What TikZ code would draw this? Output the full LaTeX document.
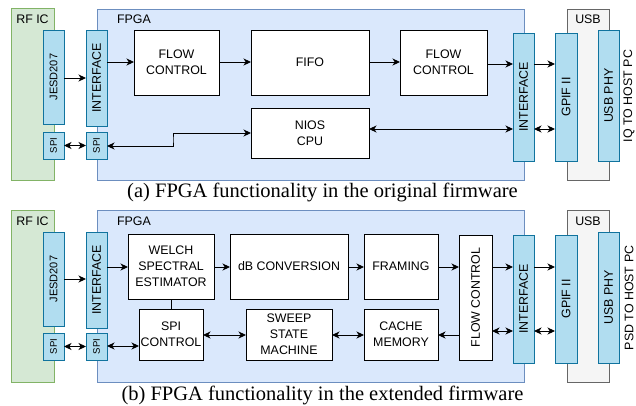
\documentclass[tikz,border=0pt]{standalone}
\usepackage{fontspec}
\setmainfont{Liberation Serif}
\newfontfamily\lblfont{Liberation Sans}
\usepackage{graphicx}
\usetikzlibrary{arrows.meta}

\definecolor{grnfill}{HTML}{D5E8D4}
\definecolor{grnline}{HTML}{82B366}
\definecolor{bluefill}{HTML}{DAE8FC}
\definecolor{blueline}{HTML}{6C8EBF}
\definecolor{greyfill}{HTML}{F5F5F5}
\definecolor{greyline}{HTML}{666666}
\definecolor{ifcfill}{HTML}{B1DDF0}
\definecolor{ifcline}{HTML}{10739E}

% place a rectangular node from its corner coordinates (x1,y1)-(x2,y2)
\newcommand\mkbox[7]{%
  \node[#2, minimum width={(#5-#3)*1pt}, minimum height={(#6-#4)*1pt}]
    (#1) at ({(#3+#5)/2},{(#4+#6)/2}) {#7};}

\tikzset{
  boxbase/.style={rectangle, inner sep=0pt, outer sep=0pt, line width=0.9pt,
    font=\lblfont\fontsize{12.4}{16}\selectfont, align=center},
  grpgreen/.style={boxbase, fill=grnfill, draw=grnline},
  grpblue/.style={boxbase, fill=bluefill, draw=blueline},
  grpgrey/.style={boxbase, fill=greyfill, draw=greyline},
  ifc/.style={boxbase, fill=ifcfill, draw=ifcline},
  blk/.style={boxbase, fill=white, draw=black},
  grplbl/.style={inner sep=0pt, font=\lblfont\fontsize{12.4}{15}\selectfont},
  smalltxt/.style={font=\lblfont\fontsize{11}{13}\selectfont},
  tinytxt/.style={font=\lblfont\fontsize{9.6}{12}\selectfont},
  captxt/.style={inner sep=0pt, font=\fontsize{20.5}{24}\selectfont},
  mytip/.tip={Stealth[length=7.5pt,width=7pt,inset=2.2pt]},
  arr/.style={line width=0.9pt, -mytip},
  darr/.style={line width=0.9pt, mytip-mytip},
  ln/.style={line width=0.9pt},
}

\begin{document}
\begin{tikzpicture}[x=1pt,y=-1pt]
\useasboundingbox (0,0) rectangle (636,405);

% ---------------- original firmware ----------------
\mkbox{rfA}{grpgreen}{11}{8.5}{54}{180}{}
\mkbox{fpgaA}{grpblue}{97}{9}{524}{180}{}
\mkbox{usbA}{grpgrey}{567}{9}{609}{180}{}
\node[grplbl] (rflblA) at (32.5,19) {RF IC};
\node[grplbl] (fpgalblA) at (134,19) {FPGA};
\node[grplbl] (usblblA) at (588,19) {USB};

\mkbox{jesdA}{ifc,smalltxt}{43}{30}{64}{124}{\rotatebox{90}{JESD207}}
\mkbox{intfLA}{ifc}{86}{30}{107}{126}{\rotatebox{90}{INTERFACE}}
\mkbox{spiLA}{ifc,tinytxt}{43}{132}{64}{159}{\rotatebox{90}{SPI}}
\mkbox{spiRA}{ifc,tinytxt}{86}{132}{107}{159}{\rotatebox{90}{SPI}}
\mkbox{fc1A}{blk}{134}{30}{219}{95}{FLOW\\CONTROL}
\mkbox{fifoA}{blk}{251}{30}{369}{95}{FIFO}
\mkbox{niosA}{blk}{251}{108}{369}{158}{NIOS\\CPU}
\mkbox{fc2A}{blk}{400}{30}{487}{95}{FLOW\\CONTROL}
\mkbox{intfRA}{ifc}{513}{33}{534}{161}{\rotatebox{90}{INTERFACE}}
\mkbox{gpifA}{ifc}{555}{33}{577}{161}{\rotatebox{90}{GPIF II}}
\mkbox{phyA}{ifc}{598}{30.5}{619}{161}{\rotatebox{90}{USB PHY}}
\node[grplbl, rotate=90] (hostA) at (629,96) {IQ TO HOST PC};

\draw[arr] (jesdA.east |- 0,78) -- (intfLA.west |- 0,78);
\draw[arr] (intfLA.east |- 0,62) -- (fc1A.west |- 0,62);
\draw[arr] (fc1A.east |- 0,62) -- (fifoA.west |- 0,62);
\draw[arr] (fifoA.east |- 0,62) -- (fc2A.west |- 0,62);
\draw[arr] (fc2A.east |- 0,64) -- (intfRA.west |- 0,64);
\draw[arr] (intfRA.east |- 0,64) -- (gpifA.west |- 0,64);
\draw[darr] (spiLA.east |- 0,145.5) -- (spiRA.west |- 0,145.5);
\coordinate (bendA) at (173,139.5);
\draw[darr] (spiRA.east |- 0,146) -| (bendA) |- (niosA.west |- 0,133);
\draw[darr] (niosA.east |- 0,129) -- (intfRA.west |- 0,129);
\draw[darr] (intfRA.east |- 0,129) -- (gpifA.west |- 0,129);

\node[captxt, anchor=base] (capA) at (322.5,197)
  {(a) FPGA functionality in the original firmware};

% ---------------- extended firmware ----------------
\mkbox{rfB}{grpgreen}{11}{210}{54}{382}{}
\mkbox{fpgaB}{grpblue}{97}{210}{524}{382}{}
\mkbox{usbB}{grpgrey}{567}{210}{609}{382}{}
\node[grplbl] (rflblB) at (32.5,221) {RF IC};
\node[grplbl] (fpgalblB) at (134,221) {FPGA};
\node[grplbl] (usblblB) at (588,221) {USB};

\mkbox{jesdB}{ifc,smalltxt}{43}{232}{64}{326}{\rotatebox{90}{JESD207}}
\mkbox{intfLB}{ifc}{86}{232}{107}{328}{\rotatebox{90}{INTERFACE}}
\mkbox{spiLB}{ifc,tinytxt}{43}{333}{64}{360}{\rotatebox{90}{SPI}}
\mkbox{spiRB}{ifc,tinytxt}{86}{333}{107}{360}{\rotatebox{90}{SPI}}
\mkbox{welch}{blk}{128}{234}{214}{299}{WELCH\\SPECTRAL\\ESTIMATOR}
\mkbox{dbconv}{blk}{230}{234}{348}{299}{dB CONVERSION}
\mkbox{framing}{blk}{364}{234}{438}{299}{FRAMING}
\mkbox{fcB}{blk}{459}{235}{492}{360}{\rotatebox{90}{FLOW CONTROL}}
\mkbox{spictl}{blk}{139}{309}{203}{360}{SPI\\CONTROL}
\mkbox{sweep}{blk}{246}{309}{332}{360}{SWEEP\\STATE\\MACHINE}
\mkbox{cache}{blk}{364}{309}{438}{360}{CACHE\\MEMORY}
\mkbox{intfRB}{ifc}{513}{235}{534}{363}{\rotatebox{90}{INTERFACE}}
\mkbox{gpifB}{ifc}{555}{235}{577}{363}{\rotatebox{90}{GPIF II}}
\mkbox{phyB}{ifc}{598}{232}{619}{363}{\rotatebox{90}{USB PHY}}
\node[grplbl, rotate=90] (hostB) at (629,298) {PSD TO HOST PC};

\draw[arr] (jesdB.east |- 0,279) -- (intfLB.west |- 0,279);
\draw[arr] (intfLB.east |- 0,267) -- (welch.west |- 0,267);
\draw[arr] (welch.east |- 0,267) -- (dbconv.west |- 0,267);
\draw[arr] (dbconv.east |- 0,267) -- (framing.west |- 0,267);
\draw[arr] (framing.east |- 0,267) -- (fcB.west |- 0,267);
\draw[arr] (fcB.east |- 0,267) -- (intfRB.west |- 0,267);
\draw[arr] (intfRB.east |- 0,267) -- (gpifB.west |- 0,267);
\draw[ln] (welch.south) -- (spictl.north);
\draw[darr] (spiLB.east |- 0,346.5) -- (spiRB.west |- 0,346.5);
\draw[darr] (spiRB.east |- 0,346) -- (spictl.west |- 0,346);
\draw[darr] (spictl.east |- 0,335) -- (sweep.west |- 0,335);
\draw[darr] (sweep.east |- 0,335) -- (cache.west |- 0,335);
\draw[arr] (fcB.west |- 0,335) -- (cache.east |- 0,335);
\draw[darr] (fcB.east |- 0,331) -- (intfRB.west |- 0,331);
\draw[darr] (intfRB.east |- 0,331) -- (gpifB.west |- 0,331);

\node[captxt, anchor=base] (capB) at (322.5,400)
  {(b) FPGA functionality in the extended firmware};
\end{tikzpicture}
\end{document}
